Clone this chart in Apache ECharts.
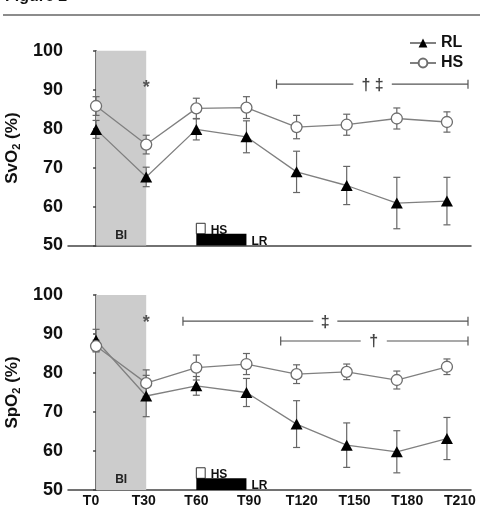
<!DOCTYPE html>
<html lang="en">
<head>
  <meta charset="UTF-8">
  <title>Figure 2</title>
  <script src="https://cdn.jsdelivr.net/npm/echarts@6/dist/echarts.min.js"></script>
  <style type="text/css">
    html, body { margin: 0; padding: 0; background: #fff; }
    #main { width: 480px; height: 508px; }
  </style>
</head>
<body>
  <div id="main"></div>

  <script type="text/javascript">
    // time points (min) and labels
    var times = [0, 30, 60, 90, 120, 150, 180, 210];
    var timeLabels = ['T0', 'T30', 'T60', 'T90', 'T120', 'T150', 'T180', 'T210'];

    // SvO2 (%) mean and SD
    var svo2RL   = [79.8, 67.6, 79.8, 77.9, 68.9, 65.4, 60.9, 61.4];
    var svo2RLsd = [2.3, 2.5, 2.7, 4.1, 5.3, 4.9, 6.6, 6.1];
    var svo2HS   = [85.8, 75.9, 85.2, 85.4, 80.4, 81.0, 82.6, 81.7];
    var svo2HSsd = [2.4, 2.4, 2.6, 2.8, 3.0, 2.7, 2.7, 2.6];

    // SpO2 (%) mean and SD
    var spo2RL   = [88.4, 74.1, 76.7, 75.0, 66.9, 61.5, 59.8, 63.2];
    var spo2RLsd = [2.8, 5.3, 2.4, 3.6, 6.0, 5.7, 5.4, 5.4];
    var spo2HS   = [86.9, 77.4, 81.4, 82.3, 79.7, 80.3, 78.2, 81.6];
    var spo2HSsd = [1.5, 3.4, 3.2, 2.7, 2.4, 2.0, 2.3, 2.0];

    // significance brackets: [start, end, y, gapStart, gapEnd]
    var topBrackets = [[108, 222.6, 91.4, 154, 177]];
    var topBracketText = ['\u2020 \u2021'];
    var botBrackets = [[52, 222.6, 93.3, 130, 144.4], [110.5, 222.6, 88.2, 158.4, 174]];
    var botBracketText = ['\u2021', '\u2020'];
    var topStar = [[30, 91.2]];
    var botStar = [[30, 93.6]];

    var FONT = "'Liberation Sans', Arial, sans-serif";
    var GREY = '#808080';

    var myChart = echarts.init(document.getElementById('main'));

    function pairs(xs, ys) {
      return xs.map(function (x, i) { return [x, ys[i]]; });
    }
    function errData(xs, ys, sd) {
      return xs.map(function (x, i) { return [x, ys[i] - sd[i], ys[i] + sd[i]]; });
    }

    function errRender(params, api) {
      var x = api.value(0);
      var lo = api.coord([x, api.value(1)]);
      var hi = api.coord([x, api.value(2)]);
      var w = 3.5;
      var st = { stroke: '#666', lineWidth: 1.2 };
      return {
        type: 'group',
        children: [
          { type: 'line', shape: { x1: hi[0], y1: hi[1], x2: lo[0], y2: lo[1] }, style: st },
          { type: 'line', shape: { x1: hi[0] - w, y1: hi[1], x2: hi[0] + w, y2: hi[1] }, style: st },
          { type: 'line', shape: { x1: lo[0] - w, y1: lo[1], x2: lo[0] + w, y2: lo[1] }, style: st }
        ]
      };
    }

    function bracketRender(texts) {
      return function (params, api) {
        var y = api.value(2);
        var a = api.coord([api.value(0), y]);
        var b = api.coord([api.value(1), y]);
        var g1 = api.coord([api.value(3), y]);
        var g2 = api.coord([api.value(4), y]);
        var st = { stroke: '#555', lineWidth: 1.2 };
        var h = 4.5;
        return {
          type: 'group',
          children: [
            { type: 'line', shape: { x1: a[0], y1: a[1], x2: g1[0], y2: a[1] }, style: st },
            { type: 'line', shape: { x1: g2[0], y1: a[1], x2: b[0], y2: a[1] }, style: st },
            { type: 'line', shape: { x1: a[0], y1: a[1] - h, x2: a[0], y2: a[1] + h }, style: st },
            { type: 'line', shape: { x1: b[0], y1: b[1] - h, x2: b[0], y2: b[1] + h }, style: st },
            {
              type: 'text', x: (g1[0] + g2[0]) / 2, y: a[1] + 1,
              style: { text: texts[params.dataIndex], fill: '#444', font: 'bold 16px ' + FONT, align: 'center', verticalAlign: 'middle' }
            }
          ]
        };
      };
    }

    function starRender(params, api) {
      var p = api.coord([api.value(0), api.value(1)]);
      return {
        type: 'text', x: p[0], y: p[1] + 3,
        style: { text: '*', fill: '#555', font: 'bold 18px ' + FONT, align: 'center', verticalAlign: 'middle' }
      };
    }

    function dataAxis(grid) {
      return {
        type: 'value', gridIndex: grid, position: 'bottom',
        min: -16.8, max: 224.4,
        axisLine: { show: true, lineStyle: { color: '#444', width: 1.5 } },
        axisTick: { show: false },
        axisLabel: { show: false },
        splitLine: { show: false }
      };
    }

    function yAxis(grid, sym) {
      return {
        type: 'value', gridIndex: grid, min: 50, max: 100, interval: 10,
        axisLine: { show: true, lineStyle: { color: '#444', width: 1.5 } },
        axisTick: { show: true, length: 3, lineStyle: { color: '#444', width: 1.5 } },
        axisLabel: { fontSize: 18, fontWeight: 'bold', color: '#111', margin: 5, fontFamily: FONT },
        splitLine: { show: false },
        name: '{a|' + sym + '}{s|2}{a| (%)}',
        nameLocation: 'middle', nameGap: 40, nameRotate: 90,
        nameTextStyle: {
          rich: {
            a: { fontSize: 17, fontWeight: 'bold', color: '#111', fontFamily: FONT },
            s: { fontSize: 11, fontWeight: 'bold', color: '#111', fontFamily: FONT, padding: [8, 0, 0, 0] }
          }
        }
      };
    }

    function band() {
      return {
        silent: true,
        itemStyle: { color: '#cccccc' },
        label: { show: true, position: 'insideBottom', distance: 4, formatter: 'BI', color: '#222', fontSize: 12, fontWeight: 'bold', fontFamily: FONT },
        data: [[{ xAxis: 0, yAxis: 100 }, { xAxis: 30, yAxis: 50 }]]
      };
    }

    function treatment() {
      var lab = { show: true, position: 'right', distance: 5, color: '#111', fontSize: 12, fontWeight: 'bold', fontFamily: FONT, offset: [0, 2] };
      return {
        silent: true,
        data: [
          [{ xAxis: 60, yAxis: 55.7, itemStyle: { color: '#fff', borderColor: '#333', borderWidth: 1 }, label: Object.assign({ formatter: 'HS' }, lab) },
           { xAxis: 65.3, yAxis: 53 }],
          [{ xAxis: 60, yAxis: 53, itemStyle: { color: '#000' }, label: Object.assign({ formatter: 'LR' }, lab) },
           { xAxis: 90, yAxis: 50 }]
        ]
      };
    }

    function panelSeries(grid, xi, rl, rlsd, hs, hssd, brackets, bracketText, star) {
      return [
        {
          type: 'line', name: 'band', xAxisIndex: xi, yAxisIndex: grid, data: [], z: 0,
          markArea: band()
        },
        {
          type: 'line', name: 'trt', xAxisIndex: xi, yAxisIndex: grid, data: [], z: 0,
          markArea: treatment()
        },
        {
          type: 'custom', xAxisIndex: xi, yAxisIndex: grid, z: 2, silent: true,
          renderItem: errRender, data: errData(times, rl, rlsd)
        },
        {
          type: 'custom', xAxisIndex: xi, yAxisIndex: grid, z: 2, silent: true,
          renderItem: errRender, data: errData(times, hs, hssd)
        },
        {
          name: 'RL', type: 'line', xAxisIndex: xi, yAxisIndex: grid, z: 4,
          data: pairs(times, rl),
          symbol: 'triangle', symbolSize: [12, 11],
          itemStyle: { color: '#000' },
          lineStyle: { color: GREY, width: 1.3 }
        },
        {
          name: 'HS', type: 'line', xAxisIndex: xi, yAxisIndex: grid, z: 5,
          data: pairs(times, hs),
          symbol: 'circle', symbolSize: 11, showAllSymbol: true,
          itemStyle: { color: '#fff', borderColor: '#6e6e6e', borderWidth: 1.3 },
          lineStyle: { color: GREY, width: 1.3 }
        },
        {
          type: 'custom', xAxisIndex: xi, yAxisIndex: grid, z: 3, silent: true,
          renderItem: bracketRender(bracketText), data: brackets
        },
        {
          type: 'custom', xAxisIndex: xi, yAxisIndex: grid, z: 3, silent: true,
          renderItem: starRender, data: star
        }
      ];
    }

    var option = {
      animation: false,
      backgroundColor: '#fff',
      graphic: [
        { type: 'text', left: 5, top: -11, style: { text: 'Figure 2', fill: '#111', font: 'bold 16px ' + FONT } },
        { type: 'line', shape: { x1: 3, y1: 15, x2: 480, y2: 15 }, style: { stroke: '#666', lineWidth: 1.5 } }
      ],
      legend: {
        data: ['RL', 'HS'],
        orient: 'vertical', left: 404, top: 30,
        itemWidth: 26, itemHeight: 11, itemGap: 4,
        selectedMode: false,
        textStyle: { fontSize: 16, fontWeight: 'bold', color: '#111', fontFamily: FONT }
      },
      grid: [
        { left: 68, right: 9, top: 50.7, height: 194.8, outerBoundsMode: 'none', containLabel: false },
        { left: 68, right: 9, top: 295, height: 195, outerBoundsMode: 'none', containLabel: false }
      ],
      xAxis: [
        dataAxis(0),
        dataAxis(1),
        {
          type: 'value', gridIndex: 1, position: 'bottom',
          min: -13.1, max: 216.3,
          axisLine: { show: false }, axisTick: { show: false }, splitLine: { show: false },
          axisLabel: {
            customValues: times, margin: 4,
            fontSize: 14, fontWeight: 'bold', color: '#111', fontFamily: FONT,
            formatter: function (v) { return timeLabels[times.indexOf(v)]; }
          }
        }
      ],
      yAxis: [yAxis(0, 'SvO'), yAxis(1, 'SpO')],
      series: [].concat(
        panelSeries(0, 0, svo2RL, svo2RLsd, svo2HS, svo2HSsd, topBrackets, topBracketText, topStar),
        panelSeries(1, 1, spo2RL, spo2RLsd, spo2HS, spo2HSsd, botBrackets, botBracketText, botStar)
      )
    };

    myChart.setOption(option);
  </script>
</body>
</html>
